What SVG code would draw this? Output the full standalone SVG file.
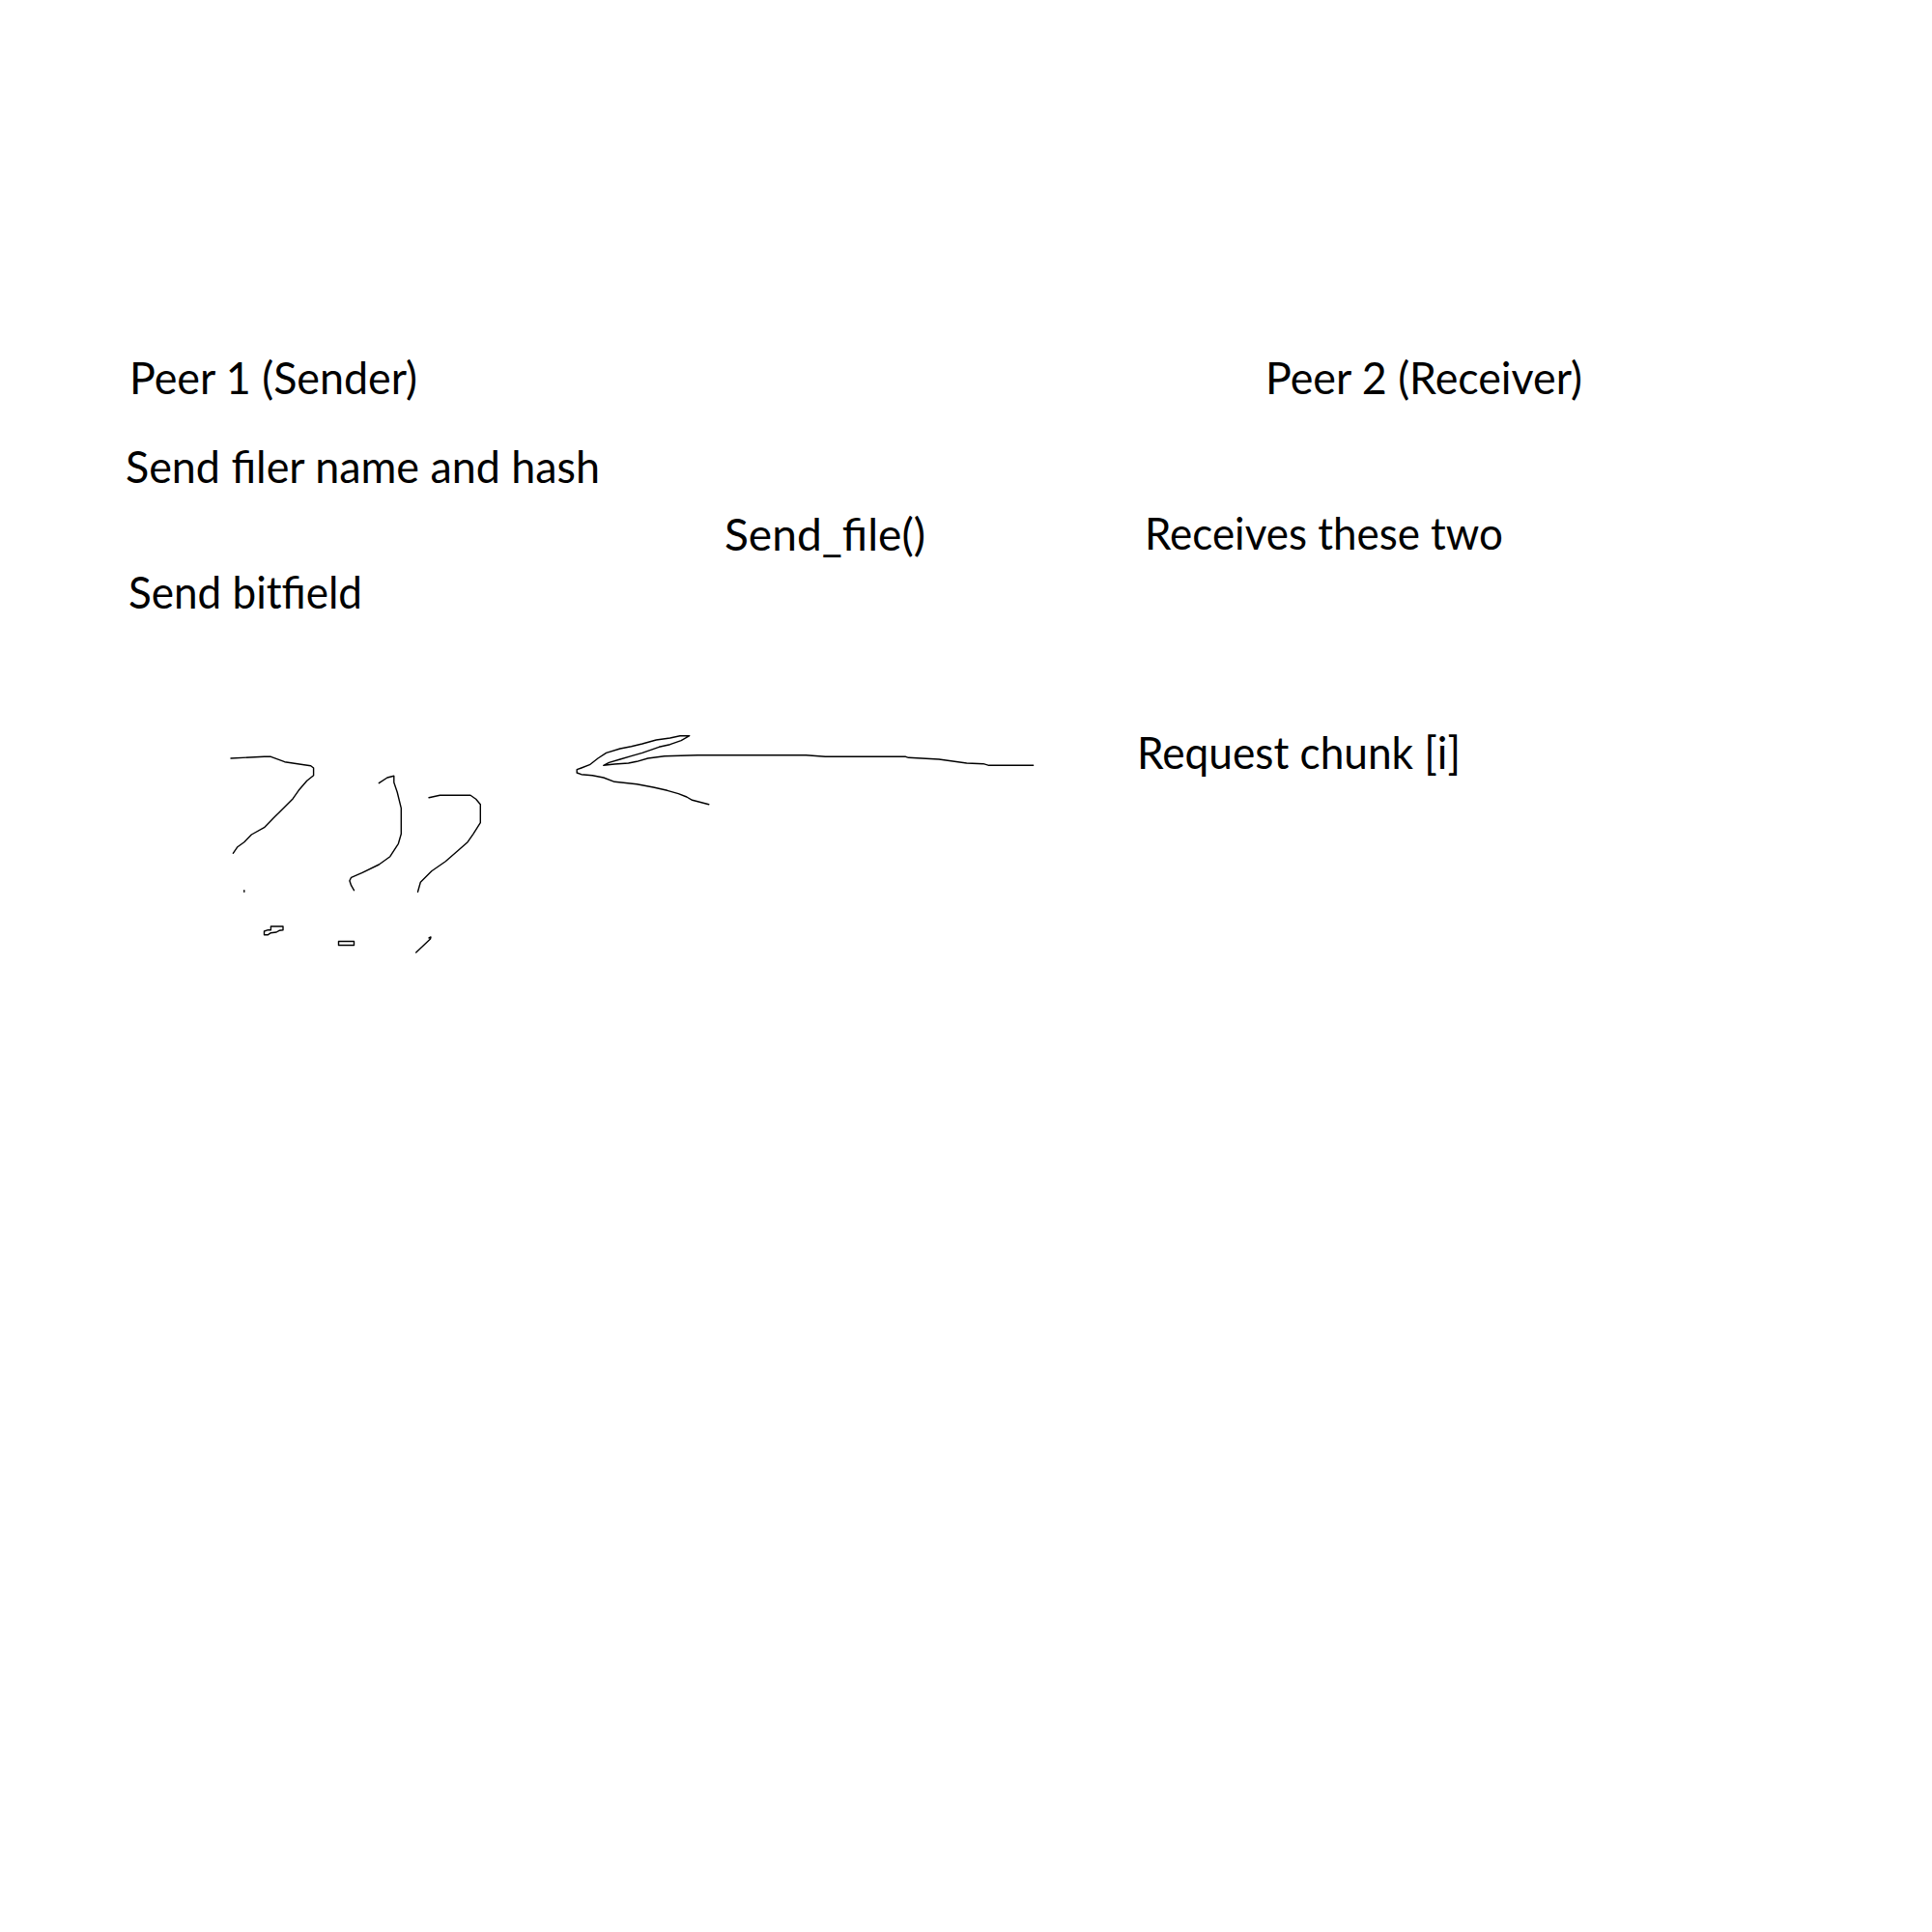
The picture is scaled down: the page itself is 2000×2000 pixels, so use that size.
<svg xmlns="http://www.w3.org/2000/svg" width="2000" height="2000" viewBox="0 0 2000 2000">
<style>
.t{font-family:Lato,"Open Sans",sans-serif;font-size:46px;fill:#000}
.s{fill:none;stroke:#000;stroke-width:1.4;stroke-linejoin:round;stroke-linecap:round}
</style>
<rect width="2000" height="2000" fill="#fff"/>
<g id="peer1"><text class="t" x="134" y="408" textLength="298" lengthAdjust="spacingAndGlyphs">Peer 1 (Sender)</text></g>
<g id="send-name-hash"><text class="t" x="130" y="500" textLength="491" lengthAdjust="spacingAndGlyphs">Send filer name and hash</text></g>
<g id="send-file"><text class="t" x="750" y="570" textLength="208" lengthAdjust="spacingAndGlyphs">Send_file()</text></g>
<g id="send-bitfield"><text class="t" x="133" y="630" textLength="242" lengthAdjust="spacingAndGlyphs">Send bitfield</text></g>
<g id="peer2"><text class="t" x="1310" y="408" textLength="328" lengthAdjust="spacingAndGlyphs">Peer 2 (Receiver)</text></g>
<g id="receives"><text class="t" x="1185" y="569" textLength="371" lengthAdjust="spacingAndGlyphs">Receives these two</text></g>
<g id="request-chunk"><text class="t" x="1177" y="796" textLength="335" lengthAdjust="spacingAndGlyphs">Request chunk [i]</text></g>
<g id="question-marks">
<path class="s" d="M239,785 L273.5,783.3 L280.4,783.3 L294.7,788.7 L314.8,791.7 L321.7,792.7 L324.6,795 L324.6,802.7 L317.7,808.3 L309.1,818.3 L303.3,826.7 L291.8,838.3 L283.2,846.7 L273.5,856.7 L260.3,864 L252.8,871.7 L245.9,876.7 L241.3,883.3"/>
<path class="s" d="M252.8,921.7 L252.8,923.3"/>
<path class="s" d="M392.3,810.7 L400.9,805 L407.8,803.3 L407.8,810 L411.2,820 L415.3,836.7 L415.3,863.3 L412.4,873.3 L403.8,886.7 L392.3,895 L375.1,903.3 L363.6,908.3 L361.9,911.7 L363.6,916.7 L366.5,921.7"/>
<path class="s" d="M444,825.7 L455.4,823.3 L487,823.3 L492.7,827.3 L497.3,832.7 L497.3,851.7 L489.9,863.3 L484.1,871.7 L472.7,881.7 L461.2,891.7 L446.8,901.7 L435.3,913.3 L432.5,923.3"/>
<path class="s" d="M273.5,967.7 L273.5,964 L277.5,962.7 L280.4,962.7 L280.4,959 L293,959 L293,962.7 L289,963.3 L286.1,965 L280.4,965.7 L277.5,967.7 Z"/>
<rect class="s" x="350.5" y="974.5" width="16" height="4"/>
<path class="s" d="M444,971 L446,970 L445.5,972 L430.7,986"/>
</g>
<g id="connectors">
<path class="s" d="M1069.6,792.3 L1023.7,792.3 L1018,790.7 L1000.7,790 L972,786 L940.5,784.3 L937.6,783.3 L854.4,783.3 L834.3,781.7 L722.3,781.7 L687.9,782.7 L670.7,785 L659.2,788.3 L650.6,790 L636.2,791 L624.8,792.3 L630.5,789.3 L642,786 L653.5,782.7 L664.9,779.3 L682.2,773.3 L693.6,770.7 L705.1,766.7 L713.7,761.7 L704,761.7 L693.6,764 L679.3,766 L664.9,770 L653.5,772.7 L642,775 L627.6,779.3 L619,785 L610.4,791.7 L601.8,795 L597.2,796.7 L597.2,800 L601.8,801.7 L613.3,802.7 L624.8,805 L636.2,809.3 L659.2,811.7 L676.4,815 L690.8,818.3 L702.3,821.7 L710.9,825 L716.6,828.3 L733.8,832.7"/>
</g>
</svg>
